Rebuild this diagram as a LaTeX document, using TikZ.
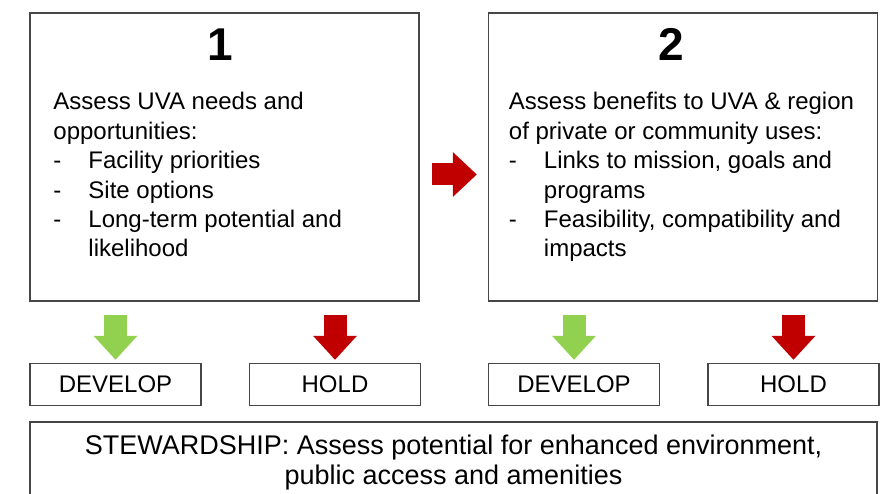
\documentclass[tikz,border=0pt]{standalone}
\usepackage{fontspec}
\setmainfont{Liberation Sans}
\usepackage{xcolor}
\usetikzlibrary{arrows.meta,positioning}
\definecolor{boxgray}{RGB}{70,70,70}
\definecolor{gogreen}{RGB}{146,208,80}
\definecolor{holdred}{RGB}{192,0,0}
\newcommand{\dashitem}{\makebox[35pt][l]{-}}
\newcommand{\hangspace}{\hspace*{35pt}}

\begin{document}
\begin{tikzpicture}[
    x=1pt, y=1pt,
    stepbox/.style={rectangle, draw=boxgray, line width=1.5pt, minimum width=389pt, minimum height=288pt},
    choice/.style={rectangle, draw=boxgray, line width=1.5pt, minimum width=171pt, minimum height=42pt, inner sep=0pt, font=\fontsize{24}{28}\selectfont},
    steward/.style={rectangle, draw=boxgray, line width=1.5pt, minimum width=847pt, minimum height=82pt, align=center, font=\fontsize{27}{30}\selectfont},
    numlabel/.style={inner sep=0pt, font=\bfseries\fontsize{46}{46}\selectfont},
    bodytext/.style={inner sep=0pt, align=left, font=\fontsize{24}{29.4}\selectfont},
    goarrow/.style={line width=23pt, color=gogreen, -{Triangle[width=44pt,length=24pt,line width=0pt]}, shorten <=13pt, shorten >=3pt},
    holdarrow/.style={goarrow, color=holdred},
    nextarrow/.style={line width=22pt, color=holdred, -{Triangle[width=45pt,length=24pt,line width=0pt]}, shorten <=12pt, shorten >=11pt}
]
\useasboundingbox (0,0) rectangle (883,493);

% Row 1: the two assessment steps
\node[stepbox] (step1) at (224.5,336) {};
\node[stepbox, right=68pt of step1] (step2) {};

\node[numlabel, anchor=base] (num1) at ([xshift=-4pt, yshift=-48pt]step1.north) {1};
\node[numlabel, anchor=base] (num2) at ([xshift=-12pt, yshift=-48pt]step2.north) {2};

\node[bodytext, below right=80pt and 24pt of step1.north west] (text1) {%
    Assess UVA needs and\\
    opportunities:\\
    \dashitem Facility priorities\\
    \dashitem Site options\\
    \dashitem Long-term potential and\\
    \hangspace likelihood};
\node[bodytext, below right=80pt and 21pt of step2.north west] (text2) {%
    Assess benefits to UVA \& region\\
    of private or community uses:\\
    \dashitem Links to mission, goals and\\
    \hangspace programs\\
    \dashitem Feasibility, compatibility and\\
    \hangspace impacts};

% Row 2: outcomes
\node[choice, below=61pt of step1.south west, anchor=north west] (dev1) {DEVELOP};
\node[choice, right=47pt of dev1] (hold1) {HOLD};
\node[choice, below=61pt of step2.south west, anchor=north west] (dev2) {DEVELOP};
\node[choice, right=47pt of dev2] (hold2) {HOLD};

% Row 3: stewardship
\node[steward, below=15pt of dev1.south west, anchor=north west] (stew) {STEWARDSHIP: Assess potential for enhanced environment,\\public access and amenities};

% Arrows
\draw[nextarrow] ([yshift=-17.5pt]step1.east) -- ([yshift=-17.5pt]step2.west);

\draw[goarrow] (dev1.north |- step1.south) -- (dev1.north);
\draw[holdarrow] (hold1.north |- step1.south) -- (hold1.north);
\draw[goarrow] (dev2.north |- step2.south) -- (dev2.north);
\draw[holdarrow] (hold2.north |- step2.south) -- (hold2.north);

\end{tikzpicture}
\end{document}
